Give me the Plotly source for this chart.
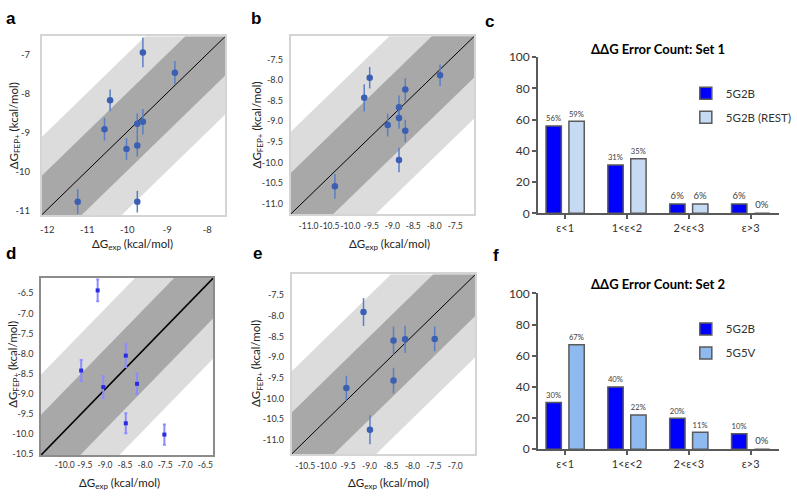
import plotly.graph_objects as go

W, H = 797, 498

# ---------------- data ----------------
# Panel a
a_exp = [-9.61, -8.81, -10.43, -10.57, -9.75, -9.61, -10.02, -9.75, -11.24, -9.75]
a_fep = [-6.95, -7.47, -8.18, -8.92, -8.78, -8.73, -9.43, -9.34, -10.78, -10.78]
a_err = [0.38, 0.30, 0.28, 0.29, 0.27, 0.33, 0.28, 0.28, 0.32, 0.28]
# Panel b
b_exp = [-10.37, -9.67, -9.54, -9.11, -8.84, -8.84, -8.69, -8.69, -8.84, -7.86]
b_fep = [-10.58, -8.43, -7.94, -9.09, -8.66, -8.92, -8.23, -9.23, -9.94, -7.88]
b_err = [0.30, 0.33, 0.26, 0.28, 0.29, 0.26, 0.28, 0.27, 0.30, 0.26]
# Panel d
d_exp = [-9.18, -9.59, -9.04, -8.48, -8.20, -8.48, -7.52]
d_fep = [-6.43, -8.42, -8.83, -8.05, -8.75, -9.73, -10.01]
d_err = [0.27, 0.26, 0.27, 0.28, 0.25, 0.25, 0.25]
# Panel e
e_exp = [-9.14, -9.54, -8.99, -8.44, -8.17, -7.48, -8.44]
e_fep = [-7.91, -9.75, -10.76, -8.60, -8.57, -8.56, -9.57]
e_err = [0.34, 0.30, 0.35, 0.34, 0.33, 0.30, 0.31]

# Bar charts
err_cats = ["ε<1", "1<ε<2", "2<ε<3", "ε>3"]
c_5g2b = [56, 31, 6, 6]
c_rest = [59, 35, 6, 0]
f_5g2b = [30, 40, 20, 10]
f_5g5v = [67, 22, 11, 0]
bar_ticks = [0, 20, 40, 60, 80, 100]

# axis ranges / ticks
a_xr, a_yr = [-12.14, -7.55], [-11.12, -6.54]
b_xr, b_yr = [-11.43, -7.04], [-11.26, -6.93]
d_xr, d_yr = [-10.59, -6.30], [-10.52, -6.12]
e_xr, e_yr = [-10.82, -6.53], [-11.35, -7.00]
a_xt, a_yt = [-12, -11, -10, -9, -8], [-11, -10, -9, -8, -7]
b_xt = [-11.0, -10.5, -10.0, -9.5, -9.0, -8.5, -8.0, -7.5]
b_yt = [-11.0, -10.5, -10.0, -9.5, -9.0, -8.5, -8.0, -7.5]
d_xt = [-10.0, -9.5, -9.0, -8.5, -8.0, -7.5, -7.0, -6.5]
d_yt = [-10.5, -10.0, -9.5, -9.0, -8.5, -8.0, -7.5, -7.0, -6.5]
e_xt = [-10.5, -10.0, -9.5, -9.0, -8.5, -8.0, -7.5, -7.0]
e_yt = [-11.0, -10.5, -10.0, -9.5, -9.0, -8.5, -8.0, -7.5]
band_inner, band_outer = 1.0, 2.0

FONT = "Lato"
LIGHT = "#DCDCDC"
DARK = "#A8A8A8"


def fx(p):
    return p / W


def fy(p):
    return 1 - p / H


fig = go.Figure()
layout = dict(width=W, height=H, margin=dict(l=0, r=0, t=0, b=0),
              paper_bgcolor="white", plot_bgcolor="white", showlegend=True,
              font=dict(family=FONT, color="#333333"))
annotations = []


def band_poly(xr, yr, k):
    s = (yr[1] - yr[0]) / (xr[1] - xr[0])
    xl, xh = xr[0] - 5, xr[1] + 5
    yl = yr[0] + s * (xl - xr[0])
    yh = yr[0] + s * (xh - xr[0])
    return [xl, xh, xh, xl, xl], [yl - k, yh - k, yh + k, yl + k, yl - k]


def scatter_panel(idx, xs, ys, errs, xr, yr, xt, yt, dom_x, dom_y, fmt, style):
    xa = "x" if idx == 1 else f"x{idx}"
    ya = "y" if idx == 1 else f"y{idx}"
    for k, col in ((band_outer, LIGHT), (band_inner, DARK)):
        px_, py_ = band_poly(xr, yr, k)
        fig.add_trace(go.Scatter(x=px_, y=py_, fill="toself", fillcolor=col, mode="none",
                                 xaxis=xa, yaxis=ya, showlegend=False, hoverinfo="skip"))
    fig.add_trace(go.Scatter(x=xr, y=yr, mode="lines",
                             line=dict(color="black", width=style["lw"]),
                             xaxis=xa, yaxis=ya, showlegend=False, hoverinfo="skip"))
    fig.add_trace(go.Scatter(x=xs, y=ys, mode="markers",
                             marker=dict(color=style["mc"], size=style["ms"], symbol=style["sym"]),
                             error_y=dict(type="data", array=errs, color=style["ec"],
                                          thickness=style["et"], width=style["ew"]),
                             xaxis=xa, yaxis=ya, showlegend=False, cliponaxis=False))
    common = dict(showgrid=False, zeroline=False, showline=True, mirror=True,
                  linecolor=style["frame"], linewidth=style["fw"], ticks="", tickangle=0)
    layout["xaxis" if idx == 1 else f"xaxis{idx}"] = dict(
        domain=dom_x, range=xr, anchor=ya, tickvals=xt,
        tickfont=dict(size=style["txf"], family=FONT, color="#333333"),
        ticktext=[fmt.format(v) for v in xt], ticklabelstandoff=style["xs"], **common)
    layout["yaxis" if idx == 1 else f"yaxis{idx}"] = dict(
        domain=dom_y, range=yr, anchor=xa, tickvals=yt,
        tickfont=dict(size=style["tyf"], family=FONT, color="#333333"),
        ticktext=[fmt.format(v) for v in yt], ticklabelstandoff=style["ys"], **common)


std = dict(lw=1, mc="#3A5FB3", ms=6.5, sym="circle", ec="#5B7FC6", et=1.5, ew=0,
           frame="#D4D4D4", fw=1.5, xs=3, ys=4, txf=8.5, tyf=9)
dst = dict(lw=1.6, mc="#2A2AE0", ms=4, sym="square", ec="#8C8CFF", et=2, ew=1.5,
           frame="#8C8C8C", fw=1.5, xs=1, ys=4, txf=8.5, tyf=9)

scatter_panel(1, a_exp, a_fep, a_err, a_xr, a_yr, a_xt, a_yt,
              [fx(40), fx(225)], [fy(213.3), fy(29.3)], "{:g}", dict(std, ys=8, xs=5, txf=9.5, tyf=9.5))
scatter_panel(2, b_exp, b_fep, b_err, b_xr, b_yr, b_xt, b_yt,
              [fx(290.7), fx(476)], [fy(212.7), fy(29)], "{:.1f}", std)
scatter_panel(4, d_exp, d_fep, d_err, d_xr, d_yr, d_xt, d_yt,
              [fx(39.3), fx(213)], [fy(461), fy(278.3)], "{:.1f}", dst)
scatter_panel(5, e_exp, e_fep, e_err, e_xr, e_yr, e_xt, e_yt,
              [fx(291.7), fx(477)], [fy(460), fy(274.7)], "{:.1f}", std)


def bar_panel(idx, v1, v2, n1, n2, c2, dom_y, legend_name, title, title_y, leg_y):
    xa, ya = f"x{idx}", f"y{idx}"
    for vals, name, col in ((v1, n1, "#0000FF"), (v2, n2, c2)):
        fig.add_trace(go.Bar(x=err_cats, y=vals, name=name,
                             marker=dict(color=col, line=dict(color="#5A5A5A", width=1.5)),
                             text=[f"{v}%" for v in vals], textposition="outside",
                             textfont=dict(size=9.5, family=FONT, color="#404040"),
                             cliponaxis=False, xaxis=xa, yaxis=ya, legend=legend_name,
                             legendgroup=name + legend_name))
    layout[f"xaxis{idx}"] = dict(domain=[fx(540), fx(783)], anchor=ya, range=[-0.44, 3.46],
                                 showline=True, linecolor="#5A5A5A", linewidth=1.5,
                                 ticks="outside", ticklen=4, tickwidth=1.5, tickcolor="#5A5A5A",
                                 tickfont=dict(size=11, family=FONT, color="#333333"),
                                 showgrid=False, zeroline=False, tickangle=0)
    layout[f"yaxis{idx}"] = dict(domain=dom_y, anchor=xa, range=[0, 100], tickvals=bar_ticks,
                                 showline=True, linecolor="#5A5A5A", linewidth=1.5,
                                 ticks="outside", ticklen=4, tickwidth=1.5, tickcolor="#5A5A5A",
                                 tickfont=dict(size=12, family=FONT, color="#333333"),
                                 showgrid=False, zeroline=False)
    layout[legend_name] = dict(x=fx(689), y=fy(leg_y), xanchor="left", yanchor="top",
                               bgcolor="rgba(0,0,0,0)", font=dict(size=11.5, family=FONT, color="#333333"),
                               tracegroupgap=5, itemwidth=30)
    annotations.append(dict(text=f"<b>{title}</b>", x=fx(661), y=fy(title_y), xref="paper", yref="paper",
                            xanchor="center", yanchor="middle",
                            showarrow=False, font=dict(size=13, family=FONT, color="black")))


bar_panel(3, c_5g2b, c_rest, "5G2B", "5G2B (REST)", "#C6DBF3", [fy(211.7), fy(50.7)],
          "legend", "ΔΔG Error Count: Set 1", 42, 73)
bar_panel(6, f_5g2b, f_5g5v, "5G2B", "5G5V", "#8FBAF0", [fy(455), fy(294.3)],
          "legend2", "ΔΔG Error Count: Set 2", 284.5, 316)
layout["barmode"] = "group"
layout["bargap"] = 0.26
layout["bargroupgap"] = 0.33

# panel letters
for letter, x, y in (("a", 9, 11), ("b", 256, 11), ("c", 491, 14),
                     ("d", 9, 253), ("e", 257, 253), ("f", 498, 255)):
    annotations.append(dict(text=f"<b>{letter}</b>", x=fx(x), y=fy(y), xref="paper", yref="paper",
                            xanchor="center", yanchor="middle",
                            showarrow=False, font=dict(size=17, family="Liberation Sans", color="black")))

# axis titles
ytitle = "ΔG<sub>FEP+</sub> (kcal/mol)"
xtitle = "ΔG<sub>exp</sub> (kcal/mol)"
for x, y in ((12, 121), (257, 121), (12, 367), (257, 367)):
    annotations.append(dict(text=ytitle, x=fx(x), y=fy(y), xref="paper", yref="paper", textangle=-90,
                            xanchor="center", yanchor="middle",
                            showarrow=False, font=dict(size=11.5, family=FONT, color="#222222")))
for x, y in ((131, 244), (390, 244), (118, 490), (389, 490)):
    annotations.append(dict(text=xtitle, x=fx(x), y=fy(y), xref="paper", yref="paper",
                            xanchor="center", yanchor="middle",
                            showarrow=False, font=dict(size=11.5, family=FONT, color="#222222")))

layout["annotations"] = annotations
fig.update_layout(**layout)
fig.write_html("out.html", config={"displayModeBar": False},
               post_script="document.body.style.margin='0';document.body.style.padding='0';")
